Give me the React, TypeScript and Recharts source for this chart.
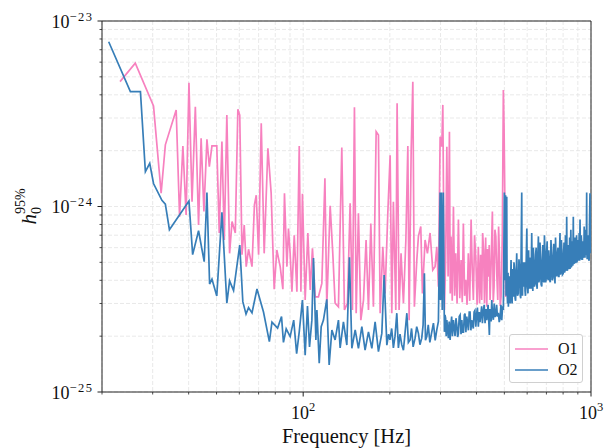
import React from "react";
import { LineChart, Line, XAxis, YAxis, CartesianGrid, Legend, ReferenceArea } from "recharts";

const O1_COLOR = "#f781bf";
const O2_COLOR = "#377eb8";
const INK = "#222";
const FONT = '"Liberation Serif", "DejaVu Serif", serif';

// [frequency Hz, h0 95% upper limit in units of 1e-25]
const o1Points: [number, number][] = [
  [23.1, 47.1], [26.1, 59.2], [30.2, 34.8], [32.1, 11.8], [33.2, 21.5], [36.2, 33.1], [37.2, 8.8], [38.2, 21.2],
  [39.2, 9.0], [40.1, 46.5], [41.1, 10.6], [42.2, 34.5], [43.3, 7.95], [44.2, 23.3], [45.2, 9.4], [46.3, 23.0],
  [47.2, 16.4], [48.2, 21.2], [50.1, 21.2], [51.1, 7.2], [52.2, 22.4], [53.2, 6.6], [54.3, 31.1], [55.5, 5.59],
  [56.6, 8.3], [58.1, 7.2], [59.3, 33.4], [60.2, 31.1], [61.3, 5.5], [62.4, 7.95], [63.4, 4.74], [64.6, 5.88],
  [66.4, 4.74], [67.7, 10.2], [68.7, 11.5], [70.0, 5.5], [71.5, 28.1], [73.2, 5.59], [75.4, 20.6], [77.4, 11.8],
  [79.3, 3.58], [81.0, 5.83], [83.2, 4.74], [85.0, 3.58], [86.1, 11.8], [87.8, 4.74], [88.9, 7.6], [90.1, 5.59],
  [91.4, 3.47], [93.1, 7.0], [95.1, 3.47], [96.9, 21.2], [98.2, 3.47], [99.4, 11.7], [101.6, 3.13], [103.8, 7.2],
  [105.8, 3.55], [107.7, 5.95], [110.1, 3.26], [113.0, 3.26], [116.1, 3.85], [119.0, 14.2], [120.8, 2.88],
  [124.1, 10.1], [126.8, 5.5], [129.1, 3.01], [132.6, 2.88], [136.2, 20.8], [139.1, 2.77], [142.5, 3.01],
  [145.6, 10.4], [148.3, 2.77], [150.7, 34.3], [152.8, 2.66], [155.6, 9.2], [158.6, 2.44], [162.0, 3.13],
  [165.4, 6.6], [168.6, 2.77], [171.8, 8.1], [175.4, 2.88], [179.3, 25.3], [182.6, 24.3], [185.1, 2.66],
  [189.1, 6.07], [192.6, 3.4], [196.8, 9.2], [200.5, 18.9], [203.2, 2.66], [205.8, 10.6], [209.8, 2.77],
  [212.0, 36.0], [215.4, 2.77], [218.8, 5.59], [223.0, 3.01], [227.4, 6.6], [231.0, 21.2], [233.4, 2.44],
  [237.2, 19.7], [240.4, 47.1], [243.4, 2.88], [248.2, 5.15], [251.4, 6.9], [256.2, 7.8], [259.6, 3.4],
  [265.2, 6.6], [270.2, 5.59], [276.0, 7.2], [282.0, 4.55], [287.2, 4.74], [291.2, 6.07], [295.0, 3.7],
  [299.1, 23.8], [303.1, 21.0], [305.6, 35.3], [309.5, 2.77], [312.5, 5.0], [315.6, 21.0], [318.8, 4.2],
  [322.2, 25.3], [324.3, 3.4], [326.4, 6.9], [329.5, 3.1], [332.7, 9.98], [336.0, 3.3], [339.0, 5.59],
  [342.5, 3.0], [346.2, 8.5], [350.0, 3.2], [353.7, 5.15], [357.0, 3.05], [360.2, 8.1], [363.8, 3.3],
  [367.3, 4.02], [371.0, 2.95], [374.8, 5.59], [379.0, 3.1], [383.2, 8.5], [386.7, 4.6], [390.2, 3.13],
  [394.0, 7.0], [398.1, 5.15], [402.0, 2.95], [406.1, 6.07], [410.0, 3.0], [413.5, 5.5], [417.2, 3.13],
  [420.3, 7.2], [423.4, 5.83], [426.5, 3.0], [430.5, 6.8], [434.4, 2.88], [437.0, 5.9], [440.0, 4.18],
  [443.0, 6.2], [446.0, 3.13], [450.0, 5.0], [454.3, 9.4], [457.4, 3.05], [460.4, 3.7], [463.7, 7.5],
  [467.0, 6.9], [470.6, 4.3], [474.3, 3.13], [477.5, 7.8], [480.6, 5.59], [483.8, 2.9], [487.0, 3.26],
  [489.5, 4.6], [492.0, 7.2], [496.0, 42.5], [498.8, 26.9], [502.0, 10.8], [505.0, 3.25],
];

const o2LowPoints: [number, number][] = [
  [21.1, 77.3], [25.1, 41.6], [27.2, 41.6], [28.3, 15.4], [29.3, 17.1], [30.2, 13.3], [32.3, 10.8], [33.2, 10.3],
  [34.3, 7.5], [40.1, 10.7], [41.3, 5.5], [43.3, 7.4], [45.3, 5.04], [46.3, 11.9], [47.3, 3.82], [48.2, 4.06],
  [50.1, 3.29], [52.2, 9.3], [54.3, 3.01], [55.5, 3.97], [57.3, 3.52], [60.2, 6.2], [61.7, 3.07], [63.3, 2.63],
  [64.6, 2.85], [66.4, 2.67], [69.1, 3.59], [72.8, 2.7], [76.3, 1.87], [77.9, 2.38], [81.5, 2.21], [84.1, 2.55],
  [85.4, 1.85], [87.3, 2.19], [90.1, 1.99], [92.7, 2.44], [94.9, 1.61], [96.9, 2.11], [99.4, 3.13],
];

const o2MidPoints: [number, number][] = [
  [101.6, 1.58], [103.5, 2.91], [105.2, 1.75], [107.2, 2.44], [108.6, 5.28], [110.7, 1.91], [111.6, 2.77],
  [113.7, 1.43], [115.5, 2.25], [117.6, 2.44], [120.8, 3.16], [123.1, 1.4], [125.8, 2.16], [129.1, 1.91],
  [132.6, 2.44], [134.4, 1.73], [138.0, 2.39], [141.8, 1.79], [144.8, 5.32], [147.6, 1.72], [151.6, 2.16],
  [155.6, 1.72], [159.9, 2.25], [164.1, 1.68], [168.6, 2.11], [173.2, 1.72], [177.8, 2.39], [182.6, 1.65],
  [187.6, 2.07], [191.1, 4.27], [195.3, 1.79], [198.0, 2.05], [200.2, 1.91], [203.0, 2.2], [205.8, 1.73],
  [208.5, 2.0], [211.5, 2.66], [214.2, 1.73], [217.0, 2.05], [220.0, 1.8], [223.0, 1.68], [226.0, 2.1],
  [229.2, 2.66], [232.0, 1.85], [235.2, 1.91], [238.0, 2.2], [241.0, 1.75], [244.8, 1.95], [248.0, 2.25],
  [251.4, 2.07], [254.5, 1.8], [258.2, 1.95], [261.0, 2.3], [263.7, 4.36], [266.0, 1.9], [268.8, 1.99],
  [272.0, 2.3], [275.5, 1.85], [279.8, 2.11], [283.5, 2.35], [287.5, 1.9], [291.2, 2.16], [295.0, 2.4],
  [299.1, 11.9], [299.8, 3.13], [302.0, 11.9], [304.2, 2.77], [306.7, 11.9], [309.5, 2.11], [311.0, 2.6],
  [312.5, 2.5], [314.0, 2.0], [315.6, 2.44], [319.5, 1.95], [321.5, 2.4], [324.0, 1.91], [326.0, 2.3],
  [328.0, 2.55], [330.0, 2.0], [332.7, 2.44], [337.0, 2.0], [339.5, 2.5], [341.7, 2.3], [344.0, 1.98],
  [346.0, 2.05], [348.5, 2.55], [351.0, 2.6], [353.5, 2.05], [355.8, 2.44], [358.0, 2.1], [360.5, 2.1],
  [363.0, 2.6], [365.0, 2.65], [367.5, 2.1], [370.2, 2.55], [375.0, 2.15], [377.5, 2.7], [380.0, 2.7],
  [382.5, 2.15], [385.2, 2.44], [390.0, 2.2], [392.5, 2.7], [395.0, 2.75], [398.0, 2.25], [400.3, 2.6],
  [403.0, 2.85], [406.0, 2.25], [409.0, 2.7], [411.6, 2.38], [417.0, 2.9], [419.5, 2.35], [422.6, 2.73],
  [425.5, 2.95], [428.5, 2.35], [431.5, 2.8], [434.4, 2.44], [439.0, 2.95], [443.5, 2.03], [445.5, 2.8],
  [448.0, 2.6], [450.0, 2.4], [452.0, 3.13], [455.0, 2.6], [458.0, 2.45], [461.0, 3.0], [464.0, 2.54],
  [467.0, 2.6], [470.0, 2.95], [473.0, 2.55], [476.6, 2.67], [480.0, 2.38], [483.0, 2.5], [486.5, 2.95],
  [489.7, 2.44], [493.0, 2.9], [496.0, 2.77],
];

const o2HighPoints: [number, number][] = [
  [500, 11.9], [503, 4.0], [505, 11.5], [507, 3.3], [509.6, 11.3], [511, 3.5], [513, 3.0], [515, 4.4],
  [516.3, 2.88], [519, 3.6], [521, 4.2], [524, 3.0], [527.5, 5.15], [530, 3.3], [532, 3.0], [535, 4.6],
  [537.5, 3.26], [540, 5.0], [543, 4.5], [545, 3.2], [547, 3.1], [549.5, 4.2], [552, 5.59], [555.5, 3.3],
  [559, 3.4], [562, 5.2], [566, 4.4], [568, 3.3], [570, 3.2], [572, 6.0], [574.6, 11.9], [576, 3.6],
  [578, 3.3], [580, 5.0], [582, 3.7], [585, 4.4], [588, 5.0], [590, 3.5], [592, 3.3], [595, 4.8],
  [598.5, 7.6], [601, 3.7], [604, 3.4], [607, 5.8], [610.6, 3.6], [613, 4.6], [616, 5.3], [619, 3.6],
  [622.4, 7.2], [625, 4.0], [628, 3.5], [630.5, 6.0], [633, 5.0], [636, 3.7], [639, 3.85], [642, 5.5],
  [645, 6.0], [647.5, 3.8], [650, 3.6], [653, 5.1], [656.5, 6.9], [659, 3.9], [662, 4.1], [665, 6.4],
  [668, 5.2], [671, 3.8], [674.4, 3.7], [677, 5.0], [680, 6.2], [683, 4.0], [686, 3.9], [689, 7.0],
  [692.2, 5.59], [695, 3.9], [698, 4.0], [701, 5.6], [704, 6.5], [707, 4.1], [710.7, 4.02], [713, 5.8],
  [716, 5.0], [719, 4.0], [722, 3.9], [726, 6.6], [730, 5.15], [733, 4.0], [736, 4.1], [739, 5.4],
  [742, 6.3], [746, 4.2], [749.8, 3.85], [753, 6.8], [756, 5.3], [759, 4.2], [762, 4.3], [765, 5.6],
  [768, 6.0], [771, 4.2], [774, 4.2], [777, 5.5], [780.4, 7.2], [783, 4.3], [786, 4.4], [789, 6.6],
  [792, 5.8], [796, 4.3], [800.6, 4.36], [803, 5.5], [806, 6.4], [809, 4.4], [812, 4.5], [815, 7.0],
  [818, 5.5], [820.5, 4.5], [823.3, 8.8], [826, 4.6], [828, 4.5], [831, 5.8], [834, 6.2], [837, 4.6],
  [840, 4.7], [843, 6.8], [845.6, 4.6], [848, 5.4], [851, 7.5], [854, 4.7], [857, 4.8], [860, 5.9],
  [862, 6.5], [865, 4.8], [868, 8.8], [870.5, 5.0], [873, 4.9], [876, 6.1], [879, 6.8], [882, 5.0],
  [885, 5.0], [888, 6.0], [891, 7.0], [894, 5.0], [897, 5.59], [900, 6.6], [903, 5.1], [906.5, 5.6],
  [910, 7.2], [913, 5.1], [916, 8.5], [919, 5.3], [922, 5.2], [925, 7.0], [928, 6.4], [931, 5.2],
  [934, 5.2], [937, 6.5], [940.6, 5.4], [944, 5.3], [947, 7.8], [950, 5.4], [953, 5.3], [956.5, 6.7],
  [960, 7.5], [963, 5.5], [966, 11.9], [968, 5.5], [970, 5.2], [974, 7.0], [978.6, 6.6], [982, 5.2],
  [985, 5.1], [988, 8.0], [992, 11.8], [994, 5.6], [996, 5.8], [998, 9.0], [1000, 5.62],
];

const xTicks = [20, 30, 40, 50, 60, 70, 80, 90, 100, 200, 300, 400, 500, 600, 700, 800, 900, 1000];
const yTicks = [
  1e-25, 2e-25, 3e-25, 4e-25, 5e-25, 6e-25, 7e-25, 8e-25, 9e-25,
  1e-24, 2e-24, 3e-24, 4e-24, 5e-24, 6e-24, 7e-24, 8e-24, 9e-24, 1e-23,
];
const UNIT = 1e-25;

const toRows = (pts: [number, number][]) => pts.map(([f, h]) => ({ f, h: h * UNIT }));
const o1Rows = toRows(o1Points);
const o2Rows = toRows([...o2LowPoints, ...o2MidPoints, ...o2HighPoints]);

const decade = (v: number) => {
  const e = Math.round(Math.log10(v));
  return { e, major: Math.abs(Math.log10(v) - e) < 1e-6 };
};

function FreqTick({ x, y, payload }: any) {
  const { e, major } = decade(payload.value);
  return (
    <g>
      <line x1={x} x2={x} y1={y} y2={y + (major ? 4.5 : 2.5)} stroke={INK} strokeWidth={major ? 1 : 0.8} />
      {major && (
        <text x={x} y={y + 27} textAnchor="middle" fontFamily={FONT} fontSize={18} fill="#111">
          10<tspan dy={-8} fontSize={12.5}>{e}</tspan>
        </text>
      )}
    </g>
  );
}

function StrainTick({ x, y, payload }: any) {
  const { e, major } = decade(payload.value);
  return (
    <g>
      <line x1={x - (major ? 4.5 : 2.5)} x2={x} y1={y} y2={y} stroke={INK} strokeWidth={major ? 1 : 0.8} />
      {major && (
        <text x={x - 8.5} y={y + 6.5} textAnchor="end" fontFamily={FONT} fontSize={18} fill="#111">
          10<tspan dy={-7} fontSize={12.5} letterSpacing={1.5}>{"\u2212" + -e}</tspan>
        </text>
      )}
    </g>
  );
}

function LegendBox() {
  const rows = [
    { name: "O1", color: O1_COLOR },
    { name: "O2", color: O2_COLOR },
  ];
  return (
    <div
      style={{
        width: 74,
        height: 49,
        boxSizing: "border-box",
        border: "1px solid #d0d0d0",
        borderRadius: 3,
        background: "rgba(255,255,255,0.85)",
        fontFamily: FONT,
        fontSize: 16,
        color: "#111",
        padding: "3px 0 0 5px",
      }}
    >
      {rows.map((r) => (
        <div key={r.name} style={{ display: "flex", alignItems: "center", height: 21 }}>
          <svg width={33} height={4} style={{ marginRight: 10 }}>
            <line x1={0} x2={33} y1={2} y2={2} stroke={r.color} strokeWidth={1.6} />
          </svg>
          <span>{r.name}</span>
        </div>
      ))}
    </div>
  );
}

export default function App() {
  return (
    <div style={{ position: "absolute", left: 0, top: 0, width: 605, height: 448, background: "#fff" }}>
      <LineChart width={605} height={448} margin={{ top: 21, right: 14, left: 0, bottom: 0 }}>
        <CartesianGrid stroke="#e3e3e3" strokeDasharray="4 2" strokeWidth={0.8} />
        <XAxis
          dataKey="f"
          type="number"
          scale="log"
          domain={[20, 1000]}
          ticks={xTicks}
          interval={0}
          allowDataOverflow
          height={56}
          axisLine={false}
          tickLine={false}
          tickSize={0}
          tickMargin={0}
          tick={<FreqTick />}
          label={{
            content: ({ viewBox }: any) => (
              <text
                x={viewBox.x + viewBox.width / 2}
                y={viewBox.y + 51}
                textAnchor="middle"
                fontFamily={FONT}
                fontSize={20.5}
                fill="#111"
              >
                Frequency [Hz]
              </text>
            ),
          }}
        />
        <YAxis
          type="number"
          scale="log"
          domain={[1e-25, 1e-23]}
          ticks={yTicks}
          interval={0}
          allowDataOverflow
          width={102}
          axisLine={false}
          tickLine={false}
          tickSize={0}
          tickMargin={0}
          tick={<StrainTick />}
          label={{
            content: ({ viewBox }: any) => {
              const cx = 36;
              const cy = viewBox.y + viewBox.height / 2;
              return (
                <text
                  transform={`rotate(-90 ${cx} ${cy})`}
                  x={cx}
                  y={cy}
                  textAnchor="middle"
                  fontFamily={FONT}
                  fontSize={21}
                  fill="#111"
                >
                  <tspan fontStyle="italic">h</tspan>
                  <tspan fontSize={14} dy={5}>0</tspan>
                  <tspan fontSize={14} dx={-7} dy={-16}>95%</tspan>
                </text>
              );
            },
          }}
        />
        <Line
          data={o1Rows}
          dataKey="h"
          name="O1"
          type="linear"
          stroke={O1_COLOR}
          strokeWidth={1.7}
          dot={false}
          isAnimationActive={false}
        />
        <Line
          data={o2Rows}
          dataKey="h"
          name="O2"
          type="linear"
          stroke={O2_COLOR}
          strokeWidth={1.7}
          dot={false}
          isAnimationActive={false}
        />
        <ReferenceArea x1={20} x2={1000} y1={1e-25} y2={1e-23} fill="none" stroke={INK} strokeWidth={1} />
        <Legend
          layout="horizontal"
          verticalAlign="middle"
          align="center"
          content={<LegendBox />}
          wrapperStyle={{ left: 509, top: 334, width: 74, height: 49 }}
        />
      </LineChart>
    </div>
  );
}
